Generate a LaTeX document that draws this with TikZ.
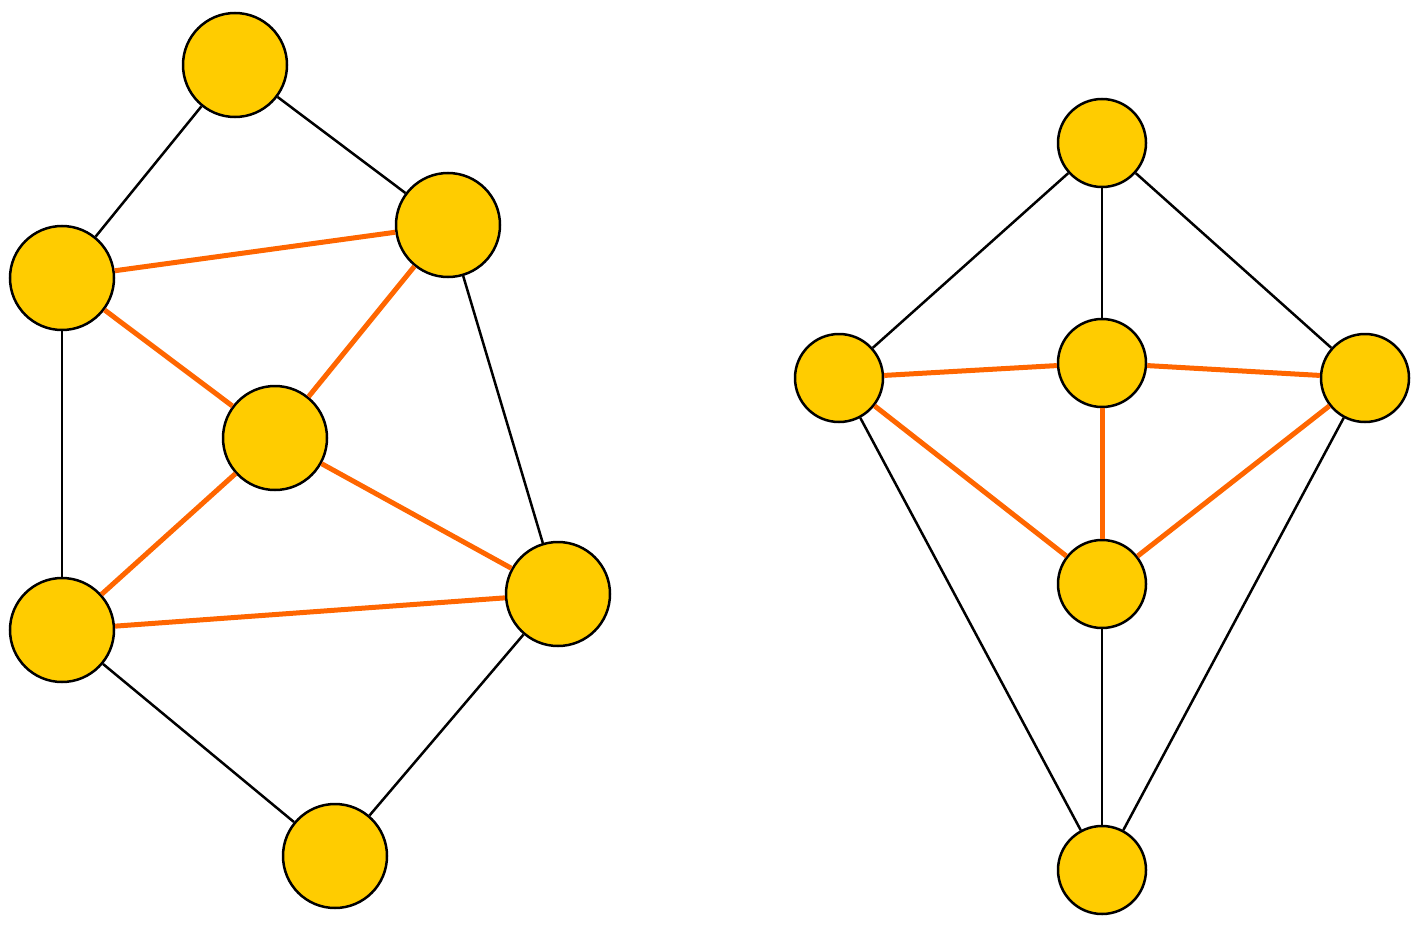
\documentclass[tikz,border=0pt]{standalone}
\begin{document}
\begin{tikzpicture}[x=1pt,y=-1pt,
  big/.style={circle,draw=black,line width=2.5pt,fill=gold,minimum size=104pt,inner sep=0pt},
  small/.style={circle,draw=black,line width=2.5pt,fill=gold,minimum size=88pt,inner sep=0pt},
  blk/.style={draw=black,line width=2.5pt},
  org/.style={draw=orng,line width=5pt}]
\definecolor{gold}{HTML}{FFCC00}
\definecolor{orng}{HTML}{FF6600}
\useasboundingbox (0,0) rectangle (1421,931);
\node[big] (A) at (235,65) {};
\node[big] (B) at (448,225) {};
\node[big] (C) at (62,278) {};
\node[big] (D) at (275,438) {};
\node[big] (E) at (62,630) {};
\node[big] (F) at (558,594) {};
\node[big] (G) at (335,856) {};
\node[small] (T) at (1102,143) {};
\node[small] (M) at (1102,363) {};
\node[small] (L) at (839,378) {};
\node[small] (R) at (1365,378) {};
\node[small] (N) at (1102,584) {};
\node[small] (Q) at (1102,870) {};
\begin{scope}[on background layer/.style={}]
\end{scope}
\foreach \a/\b in {A/C,A/B,C/E,B/F,E/G,F/G,T/L,T/M,T/R,L/Q,R/Q,N/Q}
  \draw[blk] (\a) -- (\b);
\foreach \a/\b in {C/B,C/D,B/D,D/E,D/F,E/F,L/M,M/R,M/N,L/N,R/N}
  \draw[org] (\a) -- (\b);
\end{tikzpicture}
\end{document}
